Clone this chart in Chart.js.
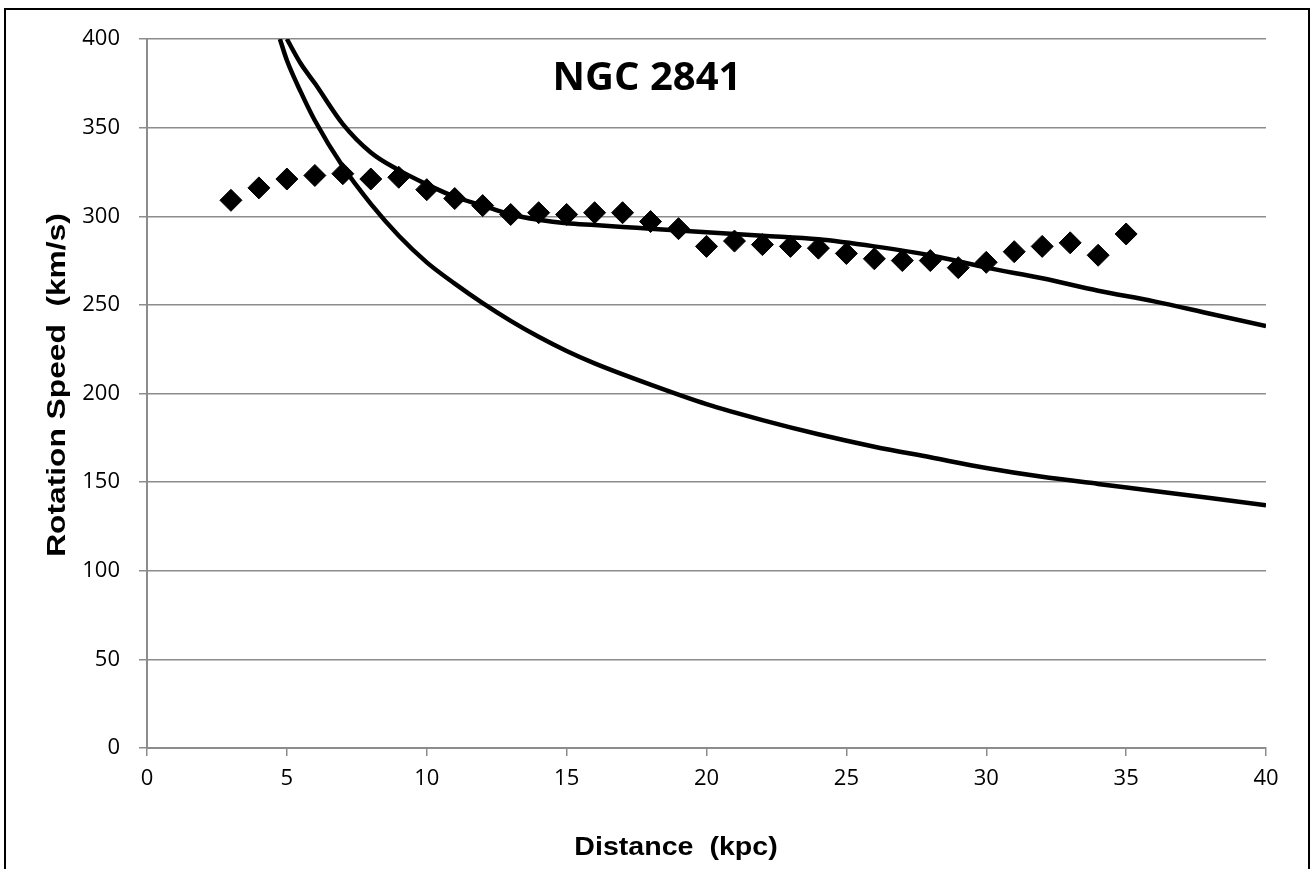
<!DOCTYPE html>
<html>
<head>
<meta charset="utf-8">
<title>NGC 2841</title>
<script src="https://cdn.jsdelivr.net/npm/chart.js@4.4.0/dist/chart.umd.min.js"></script>
<style>
    html, body { margin: 0; padding: 0; background: #fff; }
    #wrap { width: 1311px; height: 869px; }
</style>
</head>
<body>
<div id="wrap"><canvas id="rotationChart" width="1311" height="869"></canvas></div>
<script>
// Observed rotation speeds
const obsDistance = [3, 4, 5, 6, 7, 8, 9, 10, 11, 12, 13, 14, 15, 16, 17, 18, 19, 20, 21, 22, 23, 24, 25, 26, 27, 28, 29, 30, 31, 32, 33, 34, 35];
const obsSpeed = [309, 316, 321, 323, 324, 321, 322, 315, 310, 306, 301, 302, 301, 302, 302, 297, 293, 283, 286, 284, 283, 282, 279, 276, 275, 275, 271, 274, 280, 283, 285, 278, 290];

// Lower curve (visible mass only)
const keplerDistance = [4.75, 5, 5.5, 6, 7, 8, 9, 10, 11, 12, 13, 14, 15, 16, 18, 20, 22, 24, 26, 28, 30, 32, 34, 36, 38, 40];
const keplerSpeed = [400, 388, 370, 354, 328, 307, 289, 274, 262, 251, 241, 232, 224, 217, 205, 194, 185, 177, 170, 164, 158, 153, 149, 145, 141, 137];

// Upper curve (fit)
const fitDistance = [5, 5.5, 6, 7, 8, 9, 10, 11, 12, 13, 14, 15, 16, 17, 18, 20, 22, 24, 26, 28, 30, 32, 34, 36, 38, 40];
const fitSpeed = [400, 386, 375, 352, 336, 326, 318, 311, 306, 301, 298, 296, 295, 294, 293, 291, 289, 287, 283, 278, 271, 265, 258, 252, 245, 238];

const xTicks = [0, 5, 10, 15, 20, 25, 30, 35, 40];
const yTicks = [0, 50, 100, 150, 200, 250, 300, 350, 400];

const chartTitle = 'NGC 2841';
const xTitle = 'Distance  (kpc)';
const yTitle = 'Rotation Speed  (km/s)';

function toPoints(xs, ys) {
    return xs.map((x, i) => ({ x: x, y: ys[i] }));
}

// Frame, title and axis titles (placed like the Excel original)
const framePlugin = {
    id: 'frame',
    beforeDraw(chart) {
        const c = chart.ctx;
        c.save();
        c.fillStyle = '#fff';
        c.fillRect(0, 0, chart.width, chart.height);
        c.strokeStyle = '#000';
        c.lineWidth = 2;
        c.strokeRect(5, 9, 1304, 900);
        c.restore();
    },
    afterDraw(chart) {
        const c = chart.ctx;
        c.save();
        c.fillStyle = '#000';
        c.textAlign = 'center';
        c.textBaseline = 'alphabetic';

        c.font = 'bold 40px "Open Sans"';
        c.fillText(chartTitle, 647, 90);

        // x axis title, a little stretched
        c.font = 'bold 26px "Liberation Sans"';
        c.save();
        c.translate(676, 855);
        c.scale(1.1, 1);
        c.fillText(xTitle, 0, 0);
        c.restore();

        // y axis title, rotated
        c.save();
        c.translate(65, 385);
        c.rotate(-Math.PI / 2);
        c.scale(1.22, 1);
        c.fillText(yTitle, 0, 0);
        c.restore();

        c.restore();
    }
};

const gridColor = '#8c8c8c';
const tickFont = { family: '"Open Sans"', size: 22 };

const ctx = document.getElementById('rotationChart').getContext('2d');
const rotationChart = new Chart(ctx, {
    type: 'scatter',
    data: {
        datasets: [{
            label: 'Observed',
            data: toPoints(obsDistance, obsSpeed),
            pointStyle: 'rectRot',
            pointRadius: 11,
            pointHoverRadius: 11,
            backgroundColor: '#000',
            borderColor: '#000',
            borderWidth: 1,
            showLine: false,
            order: 0
        }, {
            label: 'Visible mass',
            data: toPoints(keplerDistance, keplerSpeed),
            showLine: true,
            pointRadius: 0,
            borderColor: '#000',
            borderWidth: 4.5,
            cubicInterpolationMode: 'monotone',
            order: 1
        }, {
            label: 'Fit',
            data: toPoints(fitDistance, fitSpeed),
            showLine: true,
            pointRadius: 0,
            borderColor: '#000',
            borderWidth: 4.5,
            cubicInterpolationMode: 'monotone',
            order: 1
        }]
    },
    options: {
        responsive: false,
        animation: false,
        layout: { padding: { left: 0, top: 39, right: 45, bottom: 0 } },
        plugins: {
            legend: { display: false },
            tooltip: { enabled: false }
        },
        scales: {
            x: {
                type: 'linear',
                min: 0,
                max: 40,
                afterBuildTicks: (scale) => { scale.ticks = xTicks.map(v => ({ value: v })); },
                afterFit: (scale) => { scale.height = 121; },
                grid: { display: true, drawOnChartArea: false, color: gridColor, tickLength: 8, lineWidth: 1.5 },
                border: { color: gridColor, width: 2 },
                ticks: { color: '#000', font: tickFont, padding: 10, maxRotation: 0 }
            },
            y: {
                type: 'linear',
                min: 0,
                max: 400,
                afterBuildTicks: (scale) => { scale.ticks = yTicks.map(v => ({ value: v })); },
                afterFit: (scale) => { scale.width = 147; },
                grid: { color: gridColor, tickLength: 8, lineWidth: 1.5 },
                border: { color: gridColor, width: 2 },
                ticks: { color: '#000', font: tickFont, padding: 19 }
            }
        }
    },
    plugins: [framePlugin]
});
</script>
</body>
</html>
